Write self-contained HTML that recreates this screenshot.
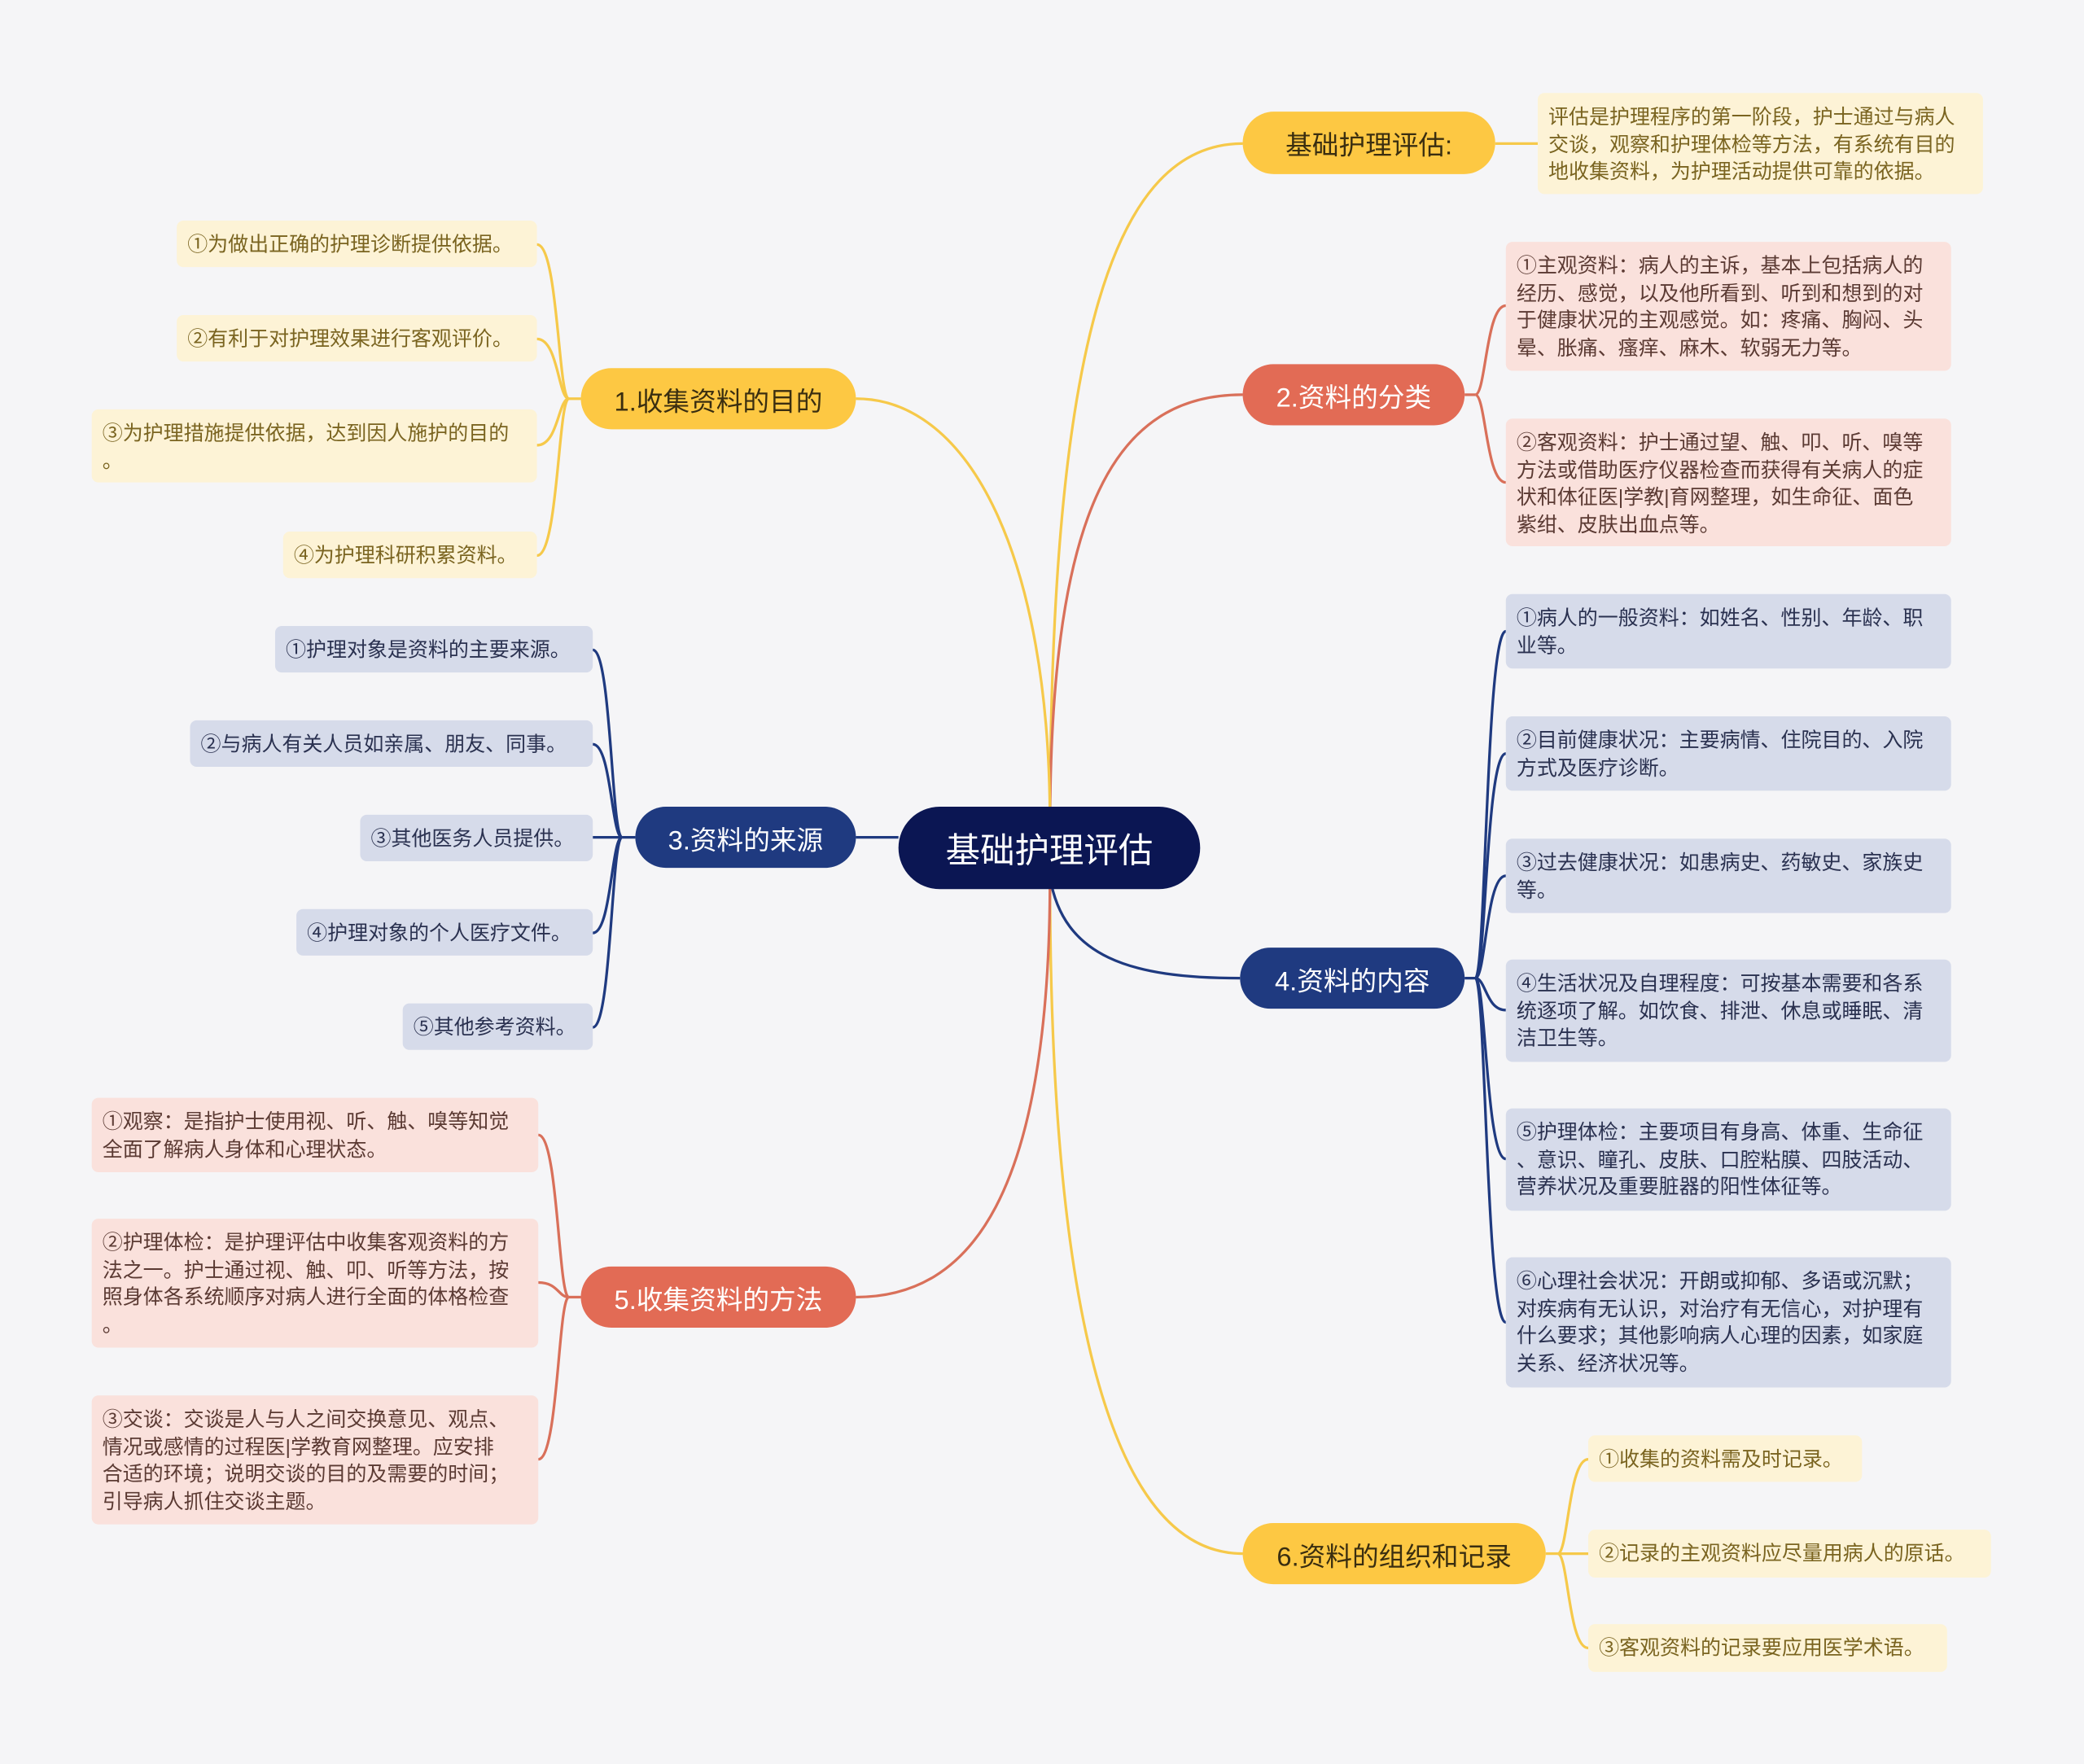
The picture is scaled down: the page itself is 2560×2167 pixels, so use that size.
<!DOCTYPE html>
<html><head><meta charset="utf-8">
<style>
html,body{margin:0;padding:0;}
body{width:2560px;height:2167px;background:#f5f5f7;overflow:hidden;}
#c{position:absolute;left:0;top:0;width:1568px;height:1327px;transform:scale(1.632653);transform-origin:0 0;font-family:"Liberation Sans","Noto Sans CJK SC",sans-serif;}
.n{position:absolute;box-sizing:border-box;}
.pill{border-radius:24px;display:flex;align-items:center;justify-content:center;font-size:20px;}
.y{background:#fdc843;color:#3a2e10;}
.r{background:#e26b55;color:#fff;}
.b{background:#1f3a80;color:#fff;}
.leaf{border-radius:5px;font-size:15.3px;line-height:20.5px;padding:9px 8px 7px 8px;white-space:nowrap;}
.ly{background:#fdf3d6;color:#7a6420;}
.lr{background:#fae1dc;color:#5b3a33;}
.lb{background:#d6dbea;color:#2a3150;}
svg{position:absolute;left:0;top:0;}
</style></head><body><div id="c">
<svg width="1568" height="1327" fill="none" stroke-width="2">
<path d="M790,625 C790,250 840,108 935,108" stroke="#f6c94a"/>
<path d="M790,625 C790,380 840,297 935,297" stroke="#d9705a"/>
<path d="M790,660 C800,720 850,736 933,736" stroke="#1f3a80"/>
<path d="M790,660 C790,1000 840,1169 935,1169" stroke="#f6c94a"/>
<path d="M790,620 C790,420 730,300 644,300" stroke="#f6c94a"/>
<path d="M676,630 L644,630" stroke="#1f3a80"/>
<path d="M790,660 C790,900 730,976 644,976" stroke="#d9705a"/>
<path d="M1125,108 L1157,108" stroke="#f6c94a"/>
<g stroke="#d9705a"><path d="M1102,297 H1110"/><path d="M1110,297 C1118,297 1118,230 1133,230"/><path d="M1110,297 C1118,297 1118,363 1133,363"/></g>
<g stroke="#1f3a80"><path d="M1102,736 H1110"/>
<path d="M1110,736 C1118,736 1118,475 1133,475"/><path d="M1110,736 C1118,736 1118,567 1133,567"/><path d="M1110,736 C1118,736 1118,659 1133,659"/><path d="M1110,736 C1118,736 1118,760 1133,760"/><path d="M1110,736 C1118,736 1118,872 1133,872"/><path d="M1110,736 C1118,736 1118,995 1133,995"/></g>
<g stroke="#f6c94a"><path d="M1163,1169 H1172"/><path d="M1172,1169 C1180,1169 1180,1098 1195,1098"/><path d="M1172,1169 H1195"/><path d="M1172,1169 C1180,1169 1180,1240 1195,1240"/></g>
<g stroke="#f6c94a"><path d="M437,300 H428"/><path d="M428,300 C420,300 420,184 404,184"/><path d="M428,300 C420,300 420,255 404,255"/><path d="M428,300 C420,300 420,335 404,335"/><path d="M428,300 C420,300 420,418 404,418"/></g>
<g stroke="#1f3a80"><path d="M478,630 H468"/><path d="M468,630 C460,630 460,489 446,489"/><path d="M468,630 C460,630 460,560 446,560"/><path d="M468,630 H446"/><path d="M468,630 C460,630 460,702 446,702"/><path d="M468,630 C460,630 460,773 446,773"/></g>
<g stroke="#d9705a"><path d="M437,976 H428"/><path d="M428,976 C420,976 420,854 405,854"/><path d="M428,976 C420,976 420,965 405,965"/><path d="M428,976 C420,976 420,1098 405,1098"/></g>
</svg>
<div class="n pill" style="left:676px;top:607px;width:227px;height:62px;background:#0b1653;color:#fff;font-size:26px;border-radius:31px;">基础护理评估</div>
<div class="n pill y" style="left:935px;top:84px;width:190px;height:47px;">基础护理评估:</div>
<div class="n pill r" style="left:935px;top:274px;width:167px;height:46px;">2.资料的分类</div>
<div class="n pill b" style="left:933px;top:713px;width:169px;height:46px;">4.资料的内容</div>
<div class="n pill y" style="left:935px;top:1146px;width:228px;height:46px;">6.资料的组织和记录</div>
<div class="n pill y" style="left:437px;top:277px;width:207px;height:46px;">1.收集资料的目的</div>
<div class="n pill b" style="left:478px;top:607px;width:166px;height:46px;">3.资料的来源</div>
<div class="n pill r" style="left:437px;top:953px;width:207px;height:46px;">5.收集资料的方法</div>

<div class="n leaf ly" style="left:1157px;top:70px;width:335px;height:76px;">评估是护理程序的第一阶段，护士通过与病人<br>交谈，观察和护理体检等方法，有系统有目的<br>地收集资料，为护理活动提供可靠的依据。</div>
<div class="n leaf lr" style="left:1133px;top:182px;width:335px;height:97px;">①主观资料：病人的主诉，基本上包括病人的<br>经历、感觉，以及他所看到、听到和想到的对<br>于健康状况的主观感觉。如：疼痛、胸闷、头<br>晕、胀痛、瘙痒、麻木、软弱无力等。</div>
<div class="n leaf lr" style="left:1133px;top:315px;width:335px;height:96px;">②客观资料：护士通过望、触、叩、听、嗅等<br>方法或借助医疗仪器检查而获得有关病人的症<br>状和体征医|学教|育网整理，如生命征、面色<br>紫绀、皮肤出血点等。</div>
<div class="n leaf lb" style="left:1133px;top:447px;width:335px;height:56px;">①病人的一般资料：如姓名、性别、年龄、职<br>业等。</div>
<div class="n leaf lb" style="left:1133px;top:539px;width:335px;height:56px;">②目前健康状况：主要病情、住院目的、入院<br>方式及医疗诊断。</div>
<div class="n leaf lb" style="left:1133px;top:631px;width:335px;height:56px;">③过去健康状况：如患病史、药敏史、家族史<br>等。</div>
<div class="n leaf lb" style="left:1133px;top:722px;width:335px;height:77px;">④生活状况及自理程度：可按基本需要和各系<br>统逐项了解。如饮食、排泄、休息或睡眠、清<br>洁卫生等。</div>
<div class="n leaf lb" style="left:1133px;top:834px;width:335px;height:77px;">⑤护理体检：主要项目有身高、体重、生命征<br>、意识、瞳孔、皮肤、口腔粘膜、四肢活动、<br>营养状况及重要脏器的阳性体征等。</div>
<div class="n leaf lb" style="left:1133px;top:946px;width:335px;height:98px;">⑥心理社会状况：开朗或抑郁、多语或沉默；<br>对疾病有无认识，对治疗有无信心，对护理有<br>什么要求；其他影响病人心理的因素，如家庭<br>关系、经济状况等。</div>
<div class="n leaf ly" style="left:1195px;top:1080px;width:206px;height:35px;">①收集的资料需及时记录。</div>
<div class="n leaf ly" style="left:1195px;top:1151px;width:303px;height:36px;">②记录的主观资料应尽量用病人的原话。</div>
<div class="n leaf ly" style="left:1195px;top:1222px;width:270px;height:36px;">③客观资料的记录要应用医学术语。</div>

<div class="n leaf ly" style="left:133px;top:166px;width:271px;height:35px;">①为做出正确的护理诊断提供依据。</div>
<div class="n leaf ly" style="left:133px;top:237px;width:271px;height:35px;">②有利于对护理效果进行客观评价。</div>
<div class="n leaf ly" style="left:69px;top:308px;width:335px;height:55px;">③为护理措施提供依据，达到因人施护的目的<br>。</div>
<div class="n leaf ly" style="left:213px;top:400px;width:191px;height:35px;">④为护理科研积累资料。</div>
<div class="n leaf lb" style="left:207px;top:471px;width:239px;height:35px;">①护理对象是资料的主要来源。</div>
<div class="n leaf lb" style="left:143px;top:542px;width:303px;height:35px;">②与病人有关人员如亲属、朋友、同事。</div>
<div class="n leaf lb" style="left:271px;top:613px;width:175px;height:35px;">③其他医务人员提供。</div>
<div class="n leaf lb" style="left:223px;top:684px;width:223px;height:35px;">④护理对象的个人医疗文件。</div>
<div class="n leaf lb" style="left:303px;top:755px;width:143px;height:35px;">⑤其他参考资料。</div>
<div class="n leaf lr" style="left:69px;top:826px;width:336px;height:56px;">①观察：是指护士使用视、听、触、嗅等知觉<br>全面了解病人身体和心理状态。</div>
<div class="n leaf lr" style="left:69px;top:917px;width:336px;height:97px;">②护理体检：是护理评估中收集客观资料的方<br>法之一。护士通过视、触、叩、听等方法，按<br>照身体各系统顺序对病人进行全面的体格检查<br>。</div>
<div class="n leaf lr" style="left:69px;top:1050px;width:336px;height:97px;">③交谈：交谈是人与人之间交换意见、观点、<br>情况或感情的过程医|学教育网整理。应安排<br>合适的环境；说明交谈的目的及需要的时间；<br>引导病人抓住交谈主题。</div>
</div></body></html>
